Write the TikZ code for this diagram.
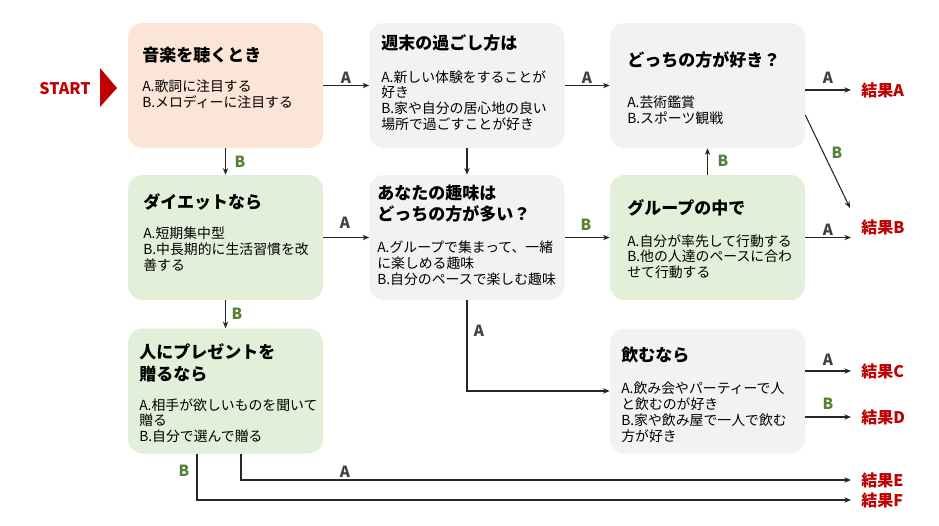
\documentclass[tikz,border=0pt]{standalone}
\usepackage{fontspec}
\setmainfont{Noto Sans CJK JP}
\usetikzlibrary{calc,arrows.meta}
\definecolor{peach}{HTML}{FBE5D6}
\definecolor{lgray}{HTML}{F2F2F2}
\definecolor{lgreen}{HTML}{E2F0D9}
\definecolor{dred}{HTML}{C00000}
\definecolor{dgreen}{HTML}{548235}
\definecolor{lblgray}{HTML}{404040}
\definecolor{linec}{HTML}{262626}
\begin{document}
\begin{tikzpicture}[x=0.75pt,y=-0.75pt,
  box/.style={draw=none, rounded corners=11pt, inner sep=0, minimum width=146.25pt, minimum height=93.75pt},
  ttl/.style={font=\fontsize{12.75pt}{16pt}\selectfont\bfseries, align=left, inner sep=0, anchor=north west, text=black},
  bdy/.style={font=\fontsize{10.4pt}{11.8pt}\selectfont, align=left, inner sep=0, anchor=north west, text=black},
  lblA/.style={font=\fontsize{11.5pt}{13pt}\selectfont\bfseries, text=lblgray, inner sep=0},
  lblB/.style={font=\fontsize{11.5pt}{13pt}\selectfont\bfseries, text=dgreen, inner sep=0},
  res/.style={font=\fontsize{12pt}{14pt}\selectfont\bfseries, text=dred, anchor=west, inner xsep=7.5pt, inner ysep=0},
  conn/.style={draw=linec, line width=0.8pt, -{Stealth[length=5pt,width=4pt]}}
]
\useasboundingbox (0,0) rectangle (939,525);
\fill[white] (0,0) rectangle (939,525);

% boxes
\node[box, fill=peach]  (b1) at (225.5,85.5) {};
\node[box, fill=lgray]  (b2) at (467,85.5) {};
\node[box, fill=lgray]  (b3) at (707.5,85.5) {};
\node[box, fill=lgreen] (b4) at (225.5,237.5) {};
\node[box, fill=lgray]  (b5) at (467,237.5) {};
\node[box, fill=lgreen] (b6) at (707.5,237.5) {};
\node[box, fill=lgreen] (b7) at (225.5,391) {};
\node[box, fill=lgray]  (b8) at (707.5,391) {};

% texts
\node[ttl] (t1) at (142,46.5) {音楽を聴くとき};
\node[bdy] (d1) at (142,80) {A.歌詞に注目する\\B.メロディーに注目する};
\node[ttl] (t2) at (381,34.5) {週末の過ごし方は};
\node[bdy] (d2) at (381,70) {A.新しい体験をすることが\\好き\\B.家や自分の居心地の良い\\場所で過ごすことが好き};
\node[ttl] (t3) at (627,51.5) {どっちの方が好き？};
\node[bdy] (d3) at (627,96) {A.芸術鑑賞\\B.スポーツ観戦};
\node[ttl] (t4) at (143,193.5) {ダイエットなら};
\node[bdy] (d4) at (143,227) {A.短期集中型\\B.中長期的に生活習慣を改\\善する};
\node[ttl] (t5) at (377,184.5) {あなたの趣味は\\どっちの方が多い？};
\node[bdy] (d5) at (377,241) {A.グループで集まって、一緒\\に楽しめる趣味\\B.自分のペースで楽しむ趣味};
\node[ttl] (t6) at (627,199.5) {グループの中で};
\node[bdy] (d6) at (627,234) {A.自分が率先して行動する\\B.他の人達のペースに合わ\\せて行動する};
\node[ttl] (t7) at (139,343.5) {人にプレゼントを\\贈るなら};
\node[bdy] (d7) at (139,398) {A.相手が欲しいものを聞いて\\贈る\\B.自分で選んで贈る};
\node[ttl] (t8) at (621,346.5) {飲むなら};
\node[bdy] (d8) at (621,382) {A.飲み会やパーティーで人\\と飲むのが好き\\B.家や飲み屋で一人で飲む\\方が好き};

% start
\node[font=\fontsize{12pt}{14pt}\selectfont\bfseries, text=dred, inner sep=0] (start) at (65,89) {START};
\fill[dred] (100,68) -- (117,88) -- (100,107) -- cycle;

% results
\node[res] (rA) at (851,90) {結果A};
\node[res] (rB) at (851,227) {結果B};
\node[res] (rC) at (851,371) {結果C};
\node[res] (rD) at (851,417) {結果D};
\node[res] (rE) at (851,480) {結果E};
\node[res] (rF) at (851,500) {結果F};

% connectors
\draw[conn] (b1.east) -- (b2.west);
\draw[conn] (b2.east) -- (b3.west);
\draw[conn] (b3.east |- rA.west) -- (rA.west);
\draw[conn] ($(b3.east)+(0,29.5)$) -- ($(rB.west)+(-1,-19)$);
\draw[conn] (b1.south) -- (b4.north);
\draw[conn] (b2.south) -- (b5.north);
\draw[conn] (b6.north) -- (b3.south);
\draw[conn] (b4.east) -- (b5.west);
\draw[conn] (b5.east) -- (b6.west);
\draw[conn] (b6.east) -- (b6.east -| rB.west);
\draw[conn] (b4.south) -- (b7.north);
\draw[conn] (b5.south) |- (b8.west);
\draw[conn] (b8.east |- rC.west) -- (rC.west);
\draw[conn] (b8.east |- rD.west) -- (rD.west);
\draw[conn] ($(b7.south)+(15.5,0)$) |- (rE.west);
\draw[conn] ($(b7.south)+(-28.5,0)$) |- (rF.west);

% labels
\node[lblA] (l1) at (346,78) {A};
\node[lblA] (l2) at (587,78) {A};
\node[lblA] (l3) at (828,78) {A};
\node[lblB] (l4) at (837,153) {B};
\node[lblB] (l5) at (240,162) {B};
\node[lblB] (l6) at (723,161) {B};
\node[lblA] (l7) at (345,223) {A};
\node[lblB] (l8) at (586,225) {B};
\node[lblA] (l9) at (828,230) {A};
\node[lblB] (l10) at (237,314) {B};
\node[lblA] (l11) at (479,331) {A};
\node[lblA] (l12) at (828,360) {A};
\node[lblB] (l13) at (828,404) {B};
\node[lblA] (l14) at (345,472) {A};
\node[lblB] (l15) at (184,471) {B};
\end{tikzpicture}
\end{document}
